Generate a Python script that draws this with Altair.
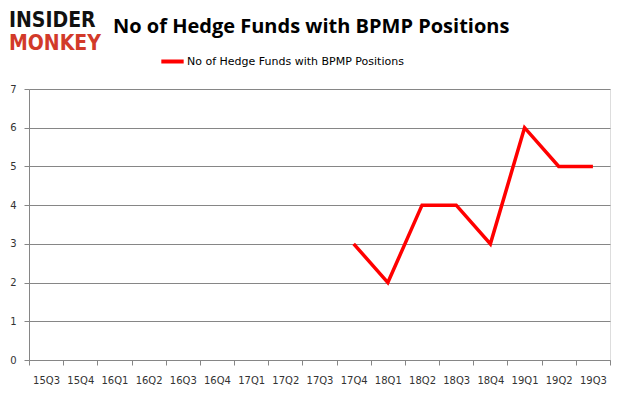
import altair as alt
import pandas as pd

quarters = ["15Q3", "15Q4", "16Q1", "16Q2", "16Q3", "16Q4", "17Q1", "17Q2", "17Q3",
            "17Q4", "18Q1", "18Q2", "18Q3", "18Q4", "19Q1", "19Q2", "19Q3"]
values = [None, None, None, None, None, None, None, None, None,
          3, 2, 4, 4, 3, 6, 5, 5]
series_name = "No of Hedge Funds with BPMP Positions"
logo_words = ["INSIDER", "MONKEY"]

df = pd.DataFrame({"quarter": quarters, "value": values, "series": series_name})
df_line = df.dropna()

W, H = 581, 271

line = alt.Chart(df_line).mark_line(strokeWidth=3.5, strokeJoin="miter").encode(
    x=alt.X("quarter:N", sort=quarters, bandPosition=0.5,
            scale=alt.Scale(type="band", domain=quarters, paddingInner=0, paddingOuter=0),
            axis=alt.Axis(title=None, labelAngle=0, tickBand="extent", grid=False,
                          domainColor="#868686", tickColor="#868686", tickSize=5,
                          labelFont="DejaVu Sans", labelFontSize=10, labelColor="#333333",
                          labelPadding=10)),
    y=alt.Y("value:Q", scale=alt.Scale(domain=[0, 7], nice=False),
            axis=alt.Axis(title=None, values=list(range(8)), tickCount=8,
                          gridColor="#868686", domainColor="#868686", tickColor="#868686",
                          tickSize=5, labelFont="DejaVu Sans", labelFontSize=10,
                          labelColor="#333333", labelPadding=8)),
    color=alt.Color("series:N", scale=alt.Scale(range=["#ff0000"]),
                    legend=alt.Legend(title=None, orient="none", legendX=130, legendY=-41,
                                      symbolType="stroke", symbolStrokeWidth=4,
                                      symbolSize=500, labelFont="DejaVu Sans",
                                      labelFontSize=11, labelColor="#000000",
                                      labelOffset=1, labelLimit=0)),
)

logo_top = alt.Chart(pd.DataFrame({"t": [logo_words[0]]})).mark_text(
    font="DejaVu Sans Condensed", fontWeight="bold", fontSize=21, align="left",
    baseline="alphabetic", color="#111111").encode(
    text="t:N", x=alt.value(-20), y=alt.value(-62))
logo_bot = alt.Chart(pd.DataFrame({"t": [logo_words[1]]})).mark_text(
    font="DejaVu Sans Condensed", fontWeight="bold", fontSize=21, align="left",
    baseline="alphabetic", color="#d23a2a").encode(
    text="t:N", x=alt.value(-20), y=alt.value(-39))
title = alt.Chart(pd.DataFrame({"t": [series_name]})).mark_text(
    font="Open Sans", fontWeight="bold", fontSize=20, align="left",
    baseline="middle", color="#000000").encode(
    text="t:N", x=alt.value(84), y=alt.value(-62))

chart = alt.layer(line, logo_top, logo_bot, title).properties(
    width=W, height=H,
    autosize=alt.AutoSizeParams(type="none"),
    padding={"left": 21, "top": 81, "right": 6, "bottom": 27},
).configure_view(stroke=None).configure(background="white")

chart.save("out.html", embed_options={"renderer": "svg", "actions": False})
